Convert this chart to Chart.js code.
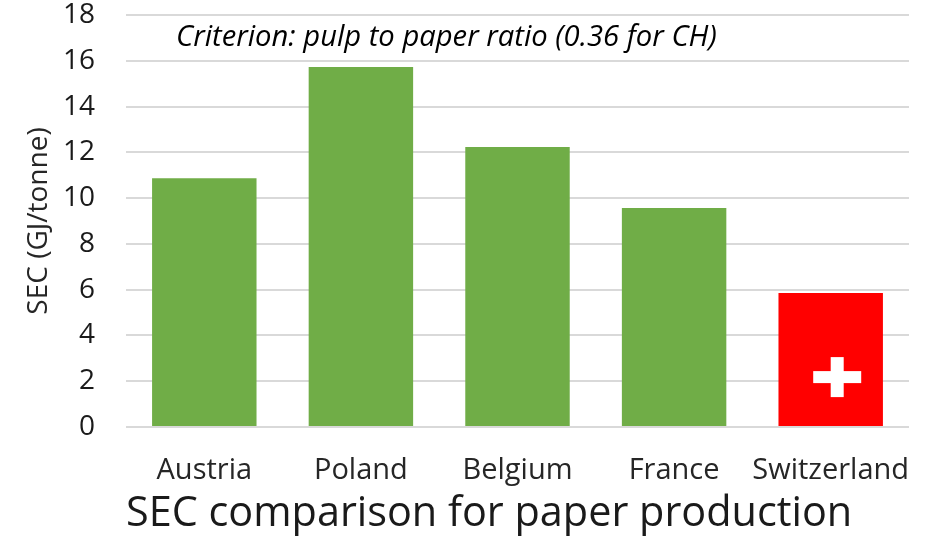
<!DOCTYPE html>
<html><head><meta charset="utf-8">
<script src="https://cdn.jsdelivr.net/npm/chart.js@4/dist/chart.umd.min.js"></script>
<style>html,body{margin:0;padding:0;background:#fff}#w{width:936px;height:536px}</style>
</head><body><div id="w"><canvas id="c" width="936" height="536"></canvas></div>
<script>
const categories = ["Austria","Poland","Belgium","France","Switzerland"];
const secValues = [10.87,15.73,12.23,9.57,5.85];
const barColors = ["#70ad47","#70ad47","#70ad47","#70ad47","#ff0000"];
const yMax = 18, yStep = 2;
const chartTitle = "SEC comparison for paper production";
const yTitle = "SEC (GJ/tonne)";
const note = "Criterion: pulp to paper ratio (0.36 for CH)";
const FONT = "'Open Sans'";
const extras = {
  id:"extras",
  afterDatasetsDraw(chart){
    const ctx = chart.ctx, bar = chart.getDatasetMeta(0).data[4], y = chart.scales.y;
    const cx = bar.x + 6.5, cy = y.getPixelForValue(2.18);
    ctx.save();
    ctx.fillStyle = "#fff";
    ctx.fillRect(cx-24, cy-6, 48, 12);
    ctx.fillRect(cx-6.5, cy-20, 13, 40);
    ctx.fillStyle = "#000";
    ctx.font = "italic 29.2px "+FONT;
    ctx.textAlign = "left"; ctx.textBaseline = "middle";
    ctx.fillText(note, 176, 38);
    ctx.restore();
  }
};
new Chart(document.getElementById("c"),{
  type:"bar",
  data:{labels:categories,datasets:[{data:secValues,backgroundColor:barColors,borderWidth:0,barPercentage:0.667,categoryPercentage:1}]},
  plugins:[extras],
  options:{
    responsive:false,animation:false,
    layout:{padding:{left:0,right:27,top:15,bottom:0}},
    plugins:{legend:{display:false},tooltip:{enabled:false}},
    scales:{
      x:{
        afterFit(s){s.height=109;s.paddingLeft=0;s.paddingRight=0},
        grid:{display:false},border:{display:false},
        ticks:{color:"#262626",font:{family:FONT,size:29},padding:18,maxRotation:0,autoSkip:false},
        title:{display:true,text:chartTitle,align:"start",color:"#1a1a1a",font:{family:FONT,size:41.4},padding:{top:0,bottom:-3}}
      },
      y:{
        min:0,max:yMax,
        afterFit(s){s.width=126;s.paddingTop=0;s.paddingBottom=0},
        grid:{color:"#d9d9d9",lineWidth:2,drawTicks:false},border:{display:false},
        ticks:{stepSize:yStep,color:"#1a1a1a",font:{family:FONT,size:28},padding:31},
        title:{display:true,text:yTitle,color:"#262626",font:{family:FONT,size:28},padding:{top:22,bottom:0}}
      }
    }
  }
});
</script></body></html>
